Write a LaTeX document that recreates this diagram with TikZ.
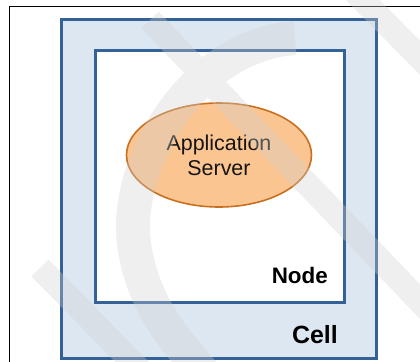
\documentclass[tikz,border=0pt]{standalone}
\usepackage{fontspec}
\setmainfont{Liberation Sans}
\usetikzlibrary{shapes.geometric}
\definecolor{cellfill}{RGB}{221,231,241}
\definecolor{boxedge}{RGB}{52,98,150}
\definecolor{srvfill}{RGB}{251,197,145}
\definecolor{srvedge}{RGB}{200,112,30}
\definecolor{txtgray}{RGB}{20,20,20}
\definecolor{wmark}{RGB}{209,209,209}
\tikzset{
  cellbox/.style={draw=boxedge, line width=3bp, fill=cellfill},
  nodebox/.style={draw=boxedge, line width=3bp, fill=white},
  server/.style={ellipse, draw=srvedge, line width=1.6bp, fill=srvfill,
    minimum width=185bp, minimum height=104bp, inner sep=0pt,
    align=center, font=\fontsize{21.5}{25}\selectfont, text=txtgray},
  boxlabel/.style={anchor=base east, inner sep=0pt}
}
\begin{document}
\begin{tikzpicture}[x=1bp, y=-1bp]
  \useasboundingbox (0,0) rectangle (420,362);
  \fill[white] (0,0) rectangle (420,362);
  % outer frame, running off the right and bottom edges
  \begin{scope}
    \clip (0,0) rectangle (420,362);
    \draw[black, line width=1bp] (9,6) rectangle (430,372);
  \end{scope}
  % cell
  \draw[cellbox] (61,19) rectangle (376,358);
  % node
  \draw[nodebox] (95,50) rectangle (344,302);
  % application server
  \node[server] (srv) at (219,155) {Application\\Server};
  \node[boxlabel, font=\fontsize{22.5}{26}\selectfont\bfseries] (nodelbl) at (328,283) {Node};
  \node[boxlabel, font=\fontsize{25}{28}\selectfont\bfseries] (celllbl) at (338,343) {Cell};
  % faint background mark laid over the drawing
  \begin{scope}
    \clip (0,0) rectangle (420,362);
    \begin{scope}[transparency group, opacity=0.33]
      \draw[draw=wmark, line width=24bp] (150,20) -- (430,312);
      \draw[draw=wmark, line width=24bp] (355,-8) -- (440,78);
      \draw[draw=wmark, line width=24bp] (40,268) -- (140,370);
      \draw[draw=wmark, line width=34bp] (295,38) .. controls (190,45) and (120,170) .. (135,250)
        .. controls (145,310) and (180,345) .. (205,375);
    \end{scope}
  \end{scope}
\end{tikzpicture}
\end{document}
